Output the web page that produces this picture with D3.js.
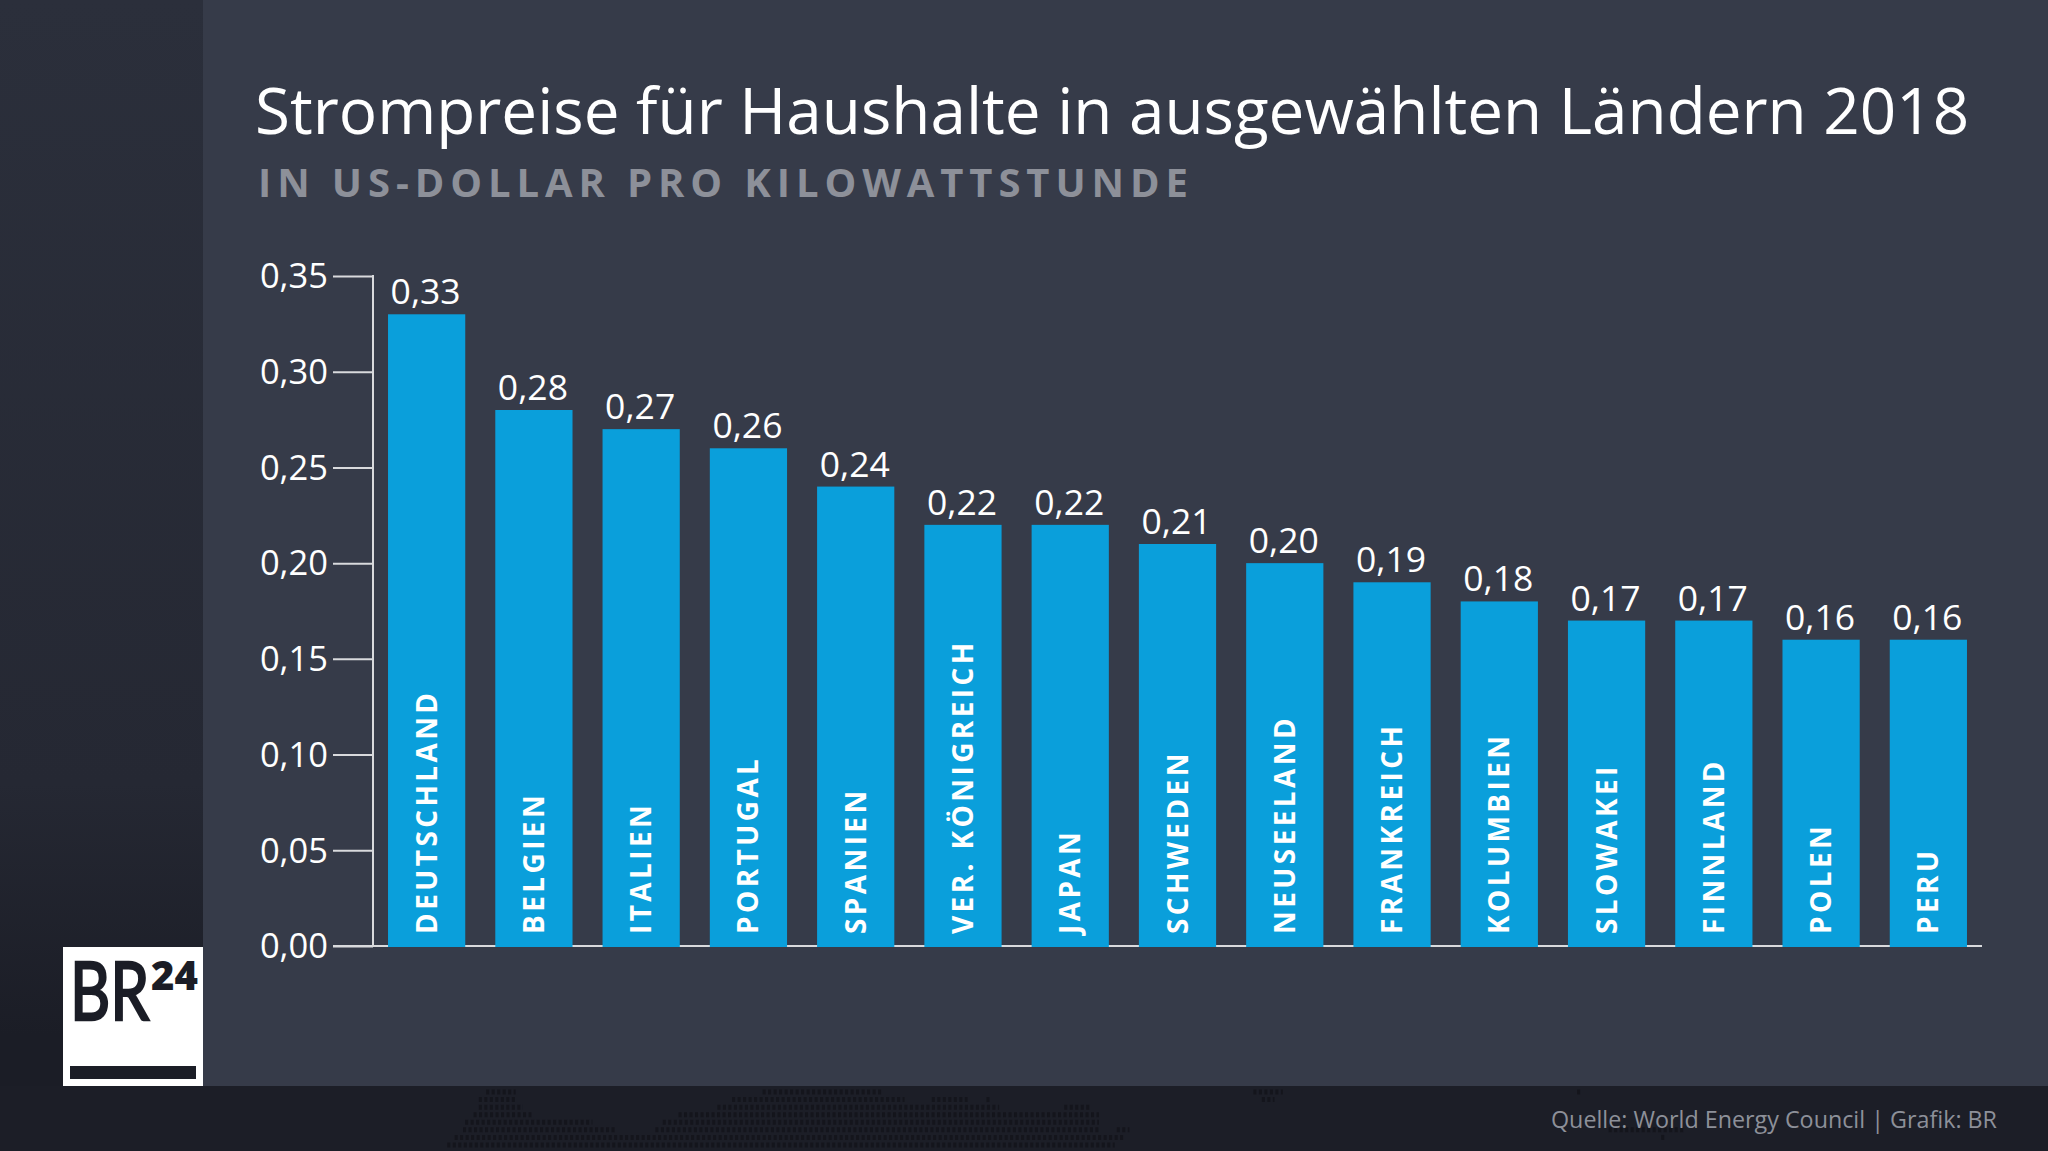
<!DOCTYPE html>
<html>
<head>
<meta charset="utf-8">
<script src="https://cdn.jsdelivr.net/npm/d3@7"></script>
<style>
    html, body { margin: 0; padding: 0; background: #1b1d26; overflow: hidden; }
    text { font-family: "Open Sans", "Noto Sans", sans-serif; }
    .title { fill: #fff; font-size: 63.8px; }
    .subtitle { fill: #8d9099; font-size: 40px; font-weight: 700; letter-spacing: 5.9px; }
    .tick-label { fill: #fff; font-size: 34.5px; }
    .value { fill: #fff; font-size: 35.5px; }
    .country { fill: #fff; font-size: 28px; font-weight: 700; letter-spacing: 3.4px; }
    .source { fill: #8d9099; font-size: 23.3px; }
</style>
</head>
<body>
<script>
const countries = ["DEUTSCHLAND", "BELGIEN", "ITALIEN", "PORTUGAL", "SPANIEN", "VER. KÖNIGREICH", "JAPAN",
    "SCHWEDEN", "NEUSEELAND", "FRANKREICH", "KOLUMBIEN", "SLOWAKEI", "FINNLAND", "POLEN", "PERU"];
const prices = [0.33, 0.28, 0.27, 0.26, 0.24, 0.22, 0.22, 0.21, 0.20, 0.19, 0.18, 0.17, 0.17, 0.16, 0.16];
const ticks = [0, 0.05, 0.10, 0.15, 0.20, 0.25, 0.30, 0.35];

// dotted world map in the footer: [row, from, to]
const mapRuns = [
    [0, 82, 110], [0, 345, 460], [0, 812, 840], [0, 1120, 1124],
    [1, 75, 110], [1, 316, 480], [1, 506, 540], [1, 558, 562], [1, 820, 832],
    [2, 75, 117], [2, 302, 570], [2, 632, 658],
    [3, 70, 125], [3, 265, 665],
    [4, 62, 183], [4, 250, 665],
    [5, 60, 205], [5, 243, 665], [5, 682, 694], [5, 1150, 1222],
    [6, 52, 688], [6, 1200, 1204],
    [7, 45, 680]
];

const width = 2048;
const height = 1151;
const comma = d3.format(".2f");
const label = function (v) { return comma(v).replace(".", ","); };

const svg = d3.select("body").append("svg")
    .attr("width", width)
    .attr("height", height)
    .style("display", "block");

// background
const defs = svg.append("defs");
const sideGrad = defs.append("linearGradient")
    .attr("id", "side").attr("x1", "0%").attr("x2", "0%").attr("y1", "0%").attr("y2", "100%");
sideGrad.append("stop").attr("offset", "0%").attr("stop-color", "#2b2f3b");
sideGrad.append("stop").attr("offset", "68%").attr("stop-color", "#252833");
sideGrad.append("stop").attr("offset", "90%").attr("stop-color", "#1b1d26");

svg.append("rect").attr("width", width).attr("height", height).style("fill", "url(#side)");
svg.append("rect").attr("x", 203).attr("width", width - 203).attr("height", 1086).style("fill", "#363b49");
svg.append("rect").attr("y", 1086).attr("width", width).attr("height", 65).style("fill", "#1c1e27");

// footer map
const mapX = d3.scaleLinear().domain([0, 1568]).range([400, 2048]);
const mapY = d3.scaleLinear().domain([0, 7]).range([1092, 1145]);
svg.selectAll(".mapRun").data(mapRuns).enter().append("line")
    .attr("class", "mapRun")
    .attr("x1", function (d) { return mapX(d[1]); })
    .attr("x2", function (d) { return mapX(d[2]); })
    .attr("y1", function (d) { return mapY(d[0]); })
    .attr("y2", function (d) { return mapY(d[0]); })
    .style("stroke", "#14151c")
    .style("stroke-width", 5)
    .style("stroke-dasharray", "3 2.5");

// title
svg.append("text").attr("class", "title").attr("x", 255).attr("y", 134)
    .text("Strompreise für Haushalte in ausgewählten Ländern 2018");
svg.append("text").attr("class", "subtitle").attr("x", 258).attr("y", 197)
    .text("IN US-DOLLAR PRO KILOWATTSTUNDE");

// scales
const y = d3.scaleLinear().domain([0, 0.35]).range([946, 276]);
const x = d3.scaleBand().domain(countries).range([388 - 15, 1967 + 15]).paddingInner(0.28).paddingOuter(0.14);

// axis
const axis = svg.append("g").attr("transform", "translate(373,0)")
    .call(d3.axisLeft(y).tickValues(ticks).tickSize(40).tickPadding(5).tickFormat(label));
axis.selectAll("line").style("stroke", "#d9dadd").style("stroke-width", 2);
axis.select(".domain").remove();
axis.selectAll("text").attr("class", "tick-label").attr("dy", "0.34em");

svg.append("line").attr("x1", 373).attr("x2", 373).attr("y1", 275).attr("y2", 947)
    .style("stroke", "#d9dadd").style("stroke-width", 2);
svg.append("line").attr("x1", 333).attr("x2", 1982).attr("y1", 946).attr("y2", 946)
    .style("stroke", "#d9dadd").style("stroke-width", 2);

// bars
svg.selectAll(".bar").data(countries).enter().append("rect")
    .attr("class", "bar")
    .attr("x", function (d) { return x(d); })
    .attr("y", function (d, i) { return y(prices[i]); })
    .attr("width", x.bandwidth())
    .attr("height", function (d, i) { return y(0) - y(prices[i]) + 1; })
    .style("fill", "#0a9fdb");

svg.selectAll(".value").data(prices).enter().append("text")
    .attr("class", "value")
    .attr("x", function (d, i) { return x(countries[i]) + x.bandwidth() / 2 - 1; })
    .attr("y", function (d) { return y(d) - 10; })
    .attr("text-anchor", "middle")
    .text(label);

svg.selectAll(".country").data(countries).enter().append("text")
    .attr("class", "country")
    .attr("transform", function (d) { return "translate(" + (x(d) + x.bandwidth() / 2 + 10) + ",934) rotate(-90)"; })
    .text(function (d) { return d; });

// logo
const logo = svg.append("g");
logo.append("rect").attr("x", 63).attr("y", 947).attr("width", 140).attr("height", 139).style("fill", "#fff");
logo.append("rect").attr("x", 70).attr("y", 1066).attr("width", 126).attr("height", 13).style("fill", "#1b1d26");
logo.append("text").attr("transform", "translate(70,1020) scale(0.76,1)")
    .style("font-family", "Lato").style("font-size", "82px").style("font-weight", 400)
    .style("fill", "#1b1d26").style("stroke", "#1b1d26").style("stroke-width", 2.5).text("BR");
logo.append("text").attr("x", 151).attr("y", 990)
    .style("font-family", "Open Sans").style("font-size", "40px").style("font-weight", 800).style("fill", "#1b1d26").text("24");

// source
svg.append("text").attr("class", "source").attr("x", 1997).attr("y", 1128).attr("text-anchor", "end")
    .text("Quelle: World Energy Council | Grafik: BR");
</script>
</body>
</html>
